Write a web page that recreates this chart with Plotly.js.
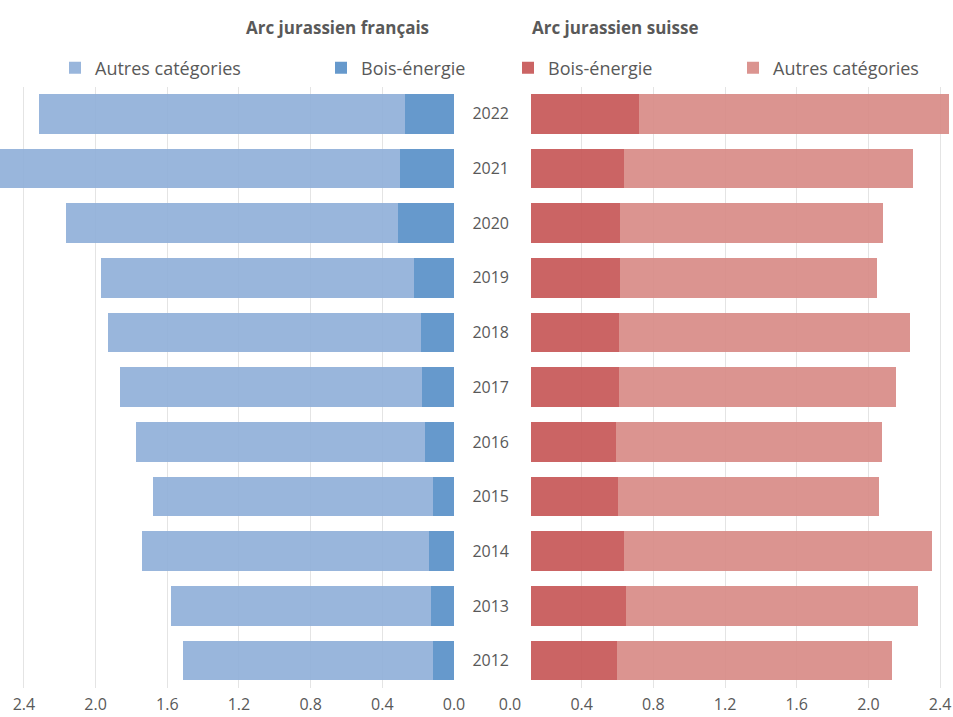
<!DOCTYPE html>
<html>
<head>
<meta charset="utf-8">
<script src="https://cdn.plot.ly/plotly-3.0.1.min.js"></script>
<style>html,body{margin:0;padding:0;background:#fff}#chart{width:953px;height:717px}</style>
</head>
<body>
<div id="chart"></div>
<script>
// Categories
const years = ['2012','2013','2014','2015','2016','2017','2018','2019','2020','2021','2022'];
// Arc jurassien français
const frBois   = [0.117, 0.128, 0.141, 0.119, 0.160, 0.179, 0.186, 0.223, 0.314, 0.303, 0.275];
const frAutres = [1.395, 1.451, 1.598, 1.561, 1.613, 1.687, 1.747, 1.749, 1.853, 2.297, 2.039];
// Arc jurassien suisse
const chBois   = [0.482, 0.530, 0.523, 0.485, 0.476, 0.493, 0.493, 0.497, 0.500, 0.519, 0.604];
const chAutres = [1.536, 1.631, 1.717, 1.461, 1.483, 1.544, 1.622, 1.438, 1.466, 1.615, 1.729];
// Tick labels
const tickVals = [0, 0.4, 0.8, 1.2, 1.6, 2.0, 2.4];
const tickText = ['0.0','0.4','0.8','1.2','1.6','2.0','2.4'];
// In the source, the Swiss panel's tick labels sit slightly left of the bars' baseline
const chTickShift = 20.7/179.2;
const labelBois = 'Bois-énergie';
const labelAutres = 'Autres catégories';
const titleFr = 'Arc jurassien français';
const titleCh = 'Arc jurassien suisse';

const FONT = 'Open Sans, Noto Sans, sans-serif';
const TXT = '#595959';

const traces = [
  {type:'bar', orientation:'h', y: years, x: frBois, name: labelBois, xaxis:'x', yaxis:'y',
   marker:{color:'rgba(85,142,198,0.9)'}, legend:'legend', legendrank:2},
  {type:'bar', orientation:'h', y: years, x: frAutres, name: labelAutres, xaxis:'x', yaxis:'y',
   marker:{color:'rgba(142,174,216,0.9)'}, legend:'legend', legendrank:1},
  {type:'bar', orientation:'h', y: years, x: chBois, name: labelBois, xaxis:'x2', yaxis:'y2',
   marker:{color:'rgba(197,83,83,0.9)'}, legend:'legend2', legendrank:1},
  {type:'bar', orientation:'h', y: years, x: chAutres, name: labelAutres, xaxis:'x2', yaxis:'y2',
   marker:{color:'rgba(215,136,132,0.9)'}, legend:'legend2', legendrank:2}
];

const gridCol = '#e4e4e4';
const layout = {
  width: 953, height: 717,
  margin: {l:0, r:0, t:82, b:29, pad:0},
  paper_bgcolor:'#fff', plot_bgcolor:'rgba(0,0,0,0)',
  barmode:'stack', bargap:0.275,
  font:{family:FONT, color:TXT, size:16},
  showlegend:true,
  xaxis:{domain:[0, 454/953], range:[454/179.2, 0], anchor:'y',
    tickvals: tickVals, ticktext: tickText, showgrid:true, gridcolor:gridCol,
    zeroline:true, zerolinecolor:'#ffffff', showline:false, ticks:'',
    tickfont:{size:16, color:TXT}, ticklabelstandoff:5},
  yaxis:{domain:[0,1], anchor:'x', type:'category', categoryorder:'array', categoryarray: years,
    showticklabels:false, showgrid:false, zeroline:false, showline:false, ticks:''},
  xaxis2:{domain:[510/953, 1], range:[-chTickShift, 422.3/179.2], anchor:'y2',
    tickvals: tickVals.map(v => v - chTickShift), ticktext: tickText,
    showgrid:true, gridcolor:gridCol, zeroline:false, showline:false, ticks:'',
    tickfont:{size:16, color:TXT}, ticklabelstandoff:5},
  yaxis2:{domain:[0,1], anchor:'x2', type:'category', categoryorder:'array', categoryarray: years,
    showticklabels:true, showgrid:false, zeroline:false, showline:false, ticks:'',
    tickfont:{size:16, color:TXT}, ticklabelstandoff:0},
  legend:{orientation:'h', xref:'container', yref:'container', x:55/953, y:1-68/717,
    xanchor:'left', yanchor:'middle', font:{size:18, color:TXT}, entrywidth:221,
    traceorder:'normal', bgcolor:'rgba(0,0,0,0)'},
  legend2:{orientation:'h', xref:'container', yref:'container', x:508/953, y:1-68/717,
    xanchor:'left', yanchor:'middle', font:{size:18, color:TXT}, entrywidth:180,
    traceorder:'normal', bgcolor:'rgba(0,0,0,0)'},
  annotations:[
    {text:'<b>'+titleFr+'</b>', xref:'paper', yref:'paper', x:337/953, y:(717-29-23)/606,
     xanchor:'center', yanchor:'middle', showarrow:false, font:{size:17, color:TXT}},
    {text:'<b>'+titleCh+'</b>', xref:'paper', yref:'paper', x:530/953, y:(717-29-23)/606,
     xanchor:'left', yanchor:'middle', showarrow:false, font:{size:17, color:TXT}}
  ]
};

Plotly.newPlot('chart', traces, layout, {displayModeBar:false, staticPlot:true});
</script>
</body>
</html>
